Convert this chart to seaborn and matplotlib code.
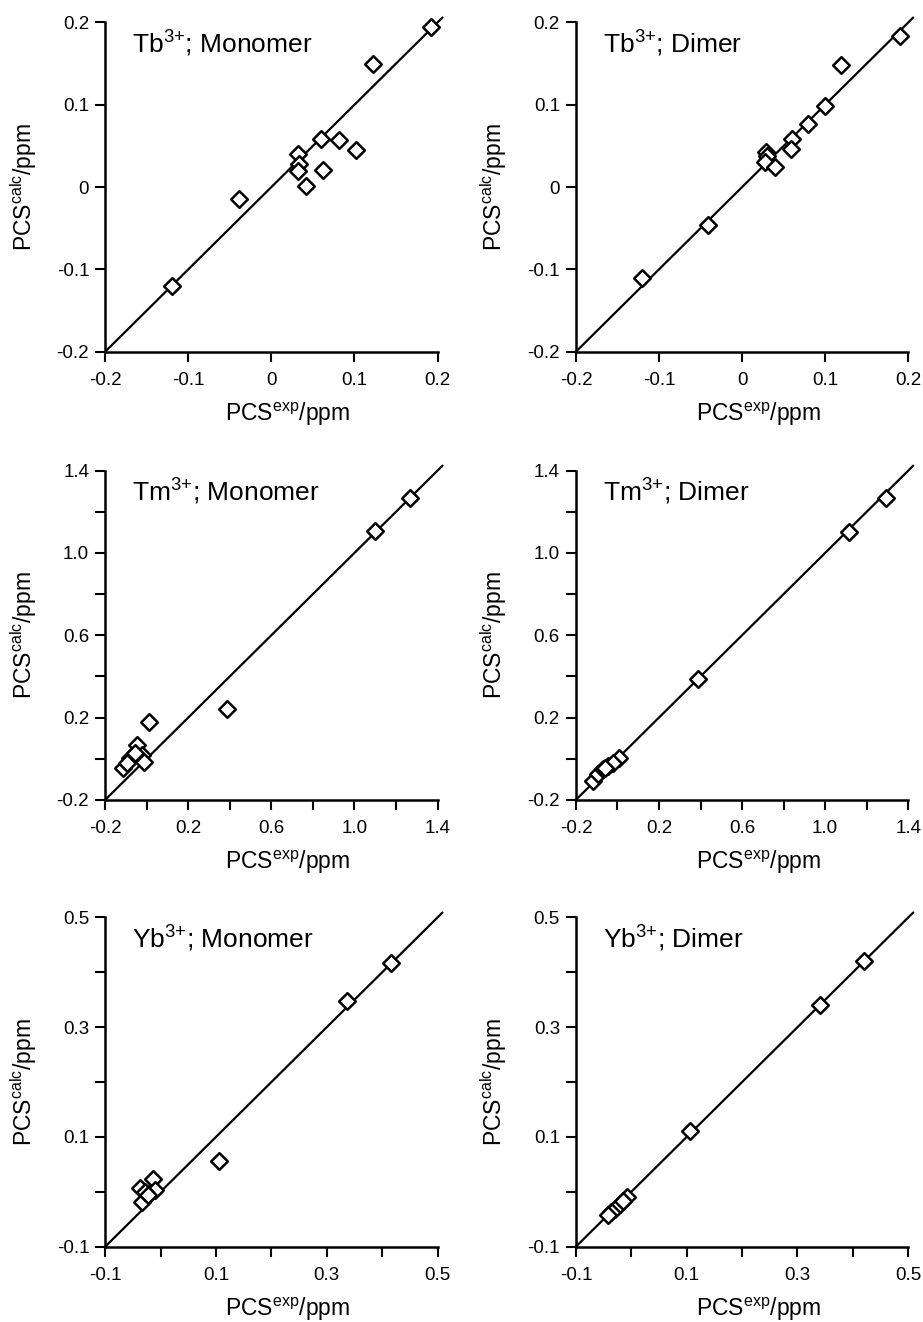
import numpy as np
import matplotlib
matplotlib.use('Agg')
import matplotlib.pyplot as plt
import seaborn as sns
import pandas as pd

sns.set_style('ticks')
plt.rcParams['font.family'] = ['Liberation Sans', 'DejaVu Sans']
plt.rcParams['mathtext.default'] = 'regular'
plt.rcParams['axes.unicode_minus'] = False
for key in ['text.color', 'axes.labelcolor', 'xtick.color', 'ytick.color', 'axes.edgecolor']:
    plt.rcParams[key] = 'black'

# PCS exp / calc values
tb_mono_exp = [0.192, 0.122, 0.060, 0.081, 0.102, 0.032, 0.033, 0.032, 0.062, 0.042, -0.039, -0.120]
tb_mono_calc = [0.195, 0.149, 0.058, 0.057, 0.045, 0.040, 0.028, 0.020, 0.021, 0.001, -0.014, -0.120]
tb_dim_exp = [0.190, 0.119, 0.100, 0.079, 0.060, 0.059, 0.029, 0.030, 0.027, 0.040, -0.041, -0.121]
tb_dim_calc = [0.184, 0.148, 0.098, 0.077, 0.059, 0.046, 0.042, 0.038, 0.030, 0.024, -0.046, -0.110]

tm_mono_exp = [1.268, 1.098, 0.387, 0.009, -0.047, -0.080, -0.112, -0.023, -0.015, -0.055, -0.095]
tm_mono_calc = [1.269, 1.109, 0.242, 0.176, 0.066, 0.004, -0.044, 0.019, -0.014, 0.028, -0.020]
tm_dim_exp = [1.291, 1.114, 0.390, 0.009, -0.116, -0.092, -0.068, -0.044, -0.020, -0.060]
tm_dim_calc = [1.266, 1.104, 0.388, 0.002, -0.108, -0.076, -0.052, -0.036, -0.020, -0.044]

yb_mono_exp = [0.416, 0.336, 0.105, -0.013, -0.037, -0.034, -0.019, -0.010, -0.028, -0.022]
yb_mono_calc = [0.417, 0.347, 0.057, 0.024, 0.006, -0.018, -0.003, 0.003, 0.000, -0.006]
yb_dim_exp = [0.421, 0.340, 0.106, -0.036, -0.008, -0.030, -0.021, -0.015, -0.042]
yb_dim_calc = [0.421, 0.340, 0.110, -0.037, -0.009, -0.031, -0.022, -0.016, -0.043]

titles = ['Tb$^{3{+}}$; Monomer', 'Tb$^{3{+}}$; Dimer',
          'Tm$^{3{+}}$; Monomer', 'Tm$^{3{+}}$; Dimer',
          'Yb$^{3{+}}$; Monomer', 'Yb$^{3{+}}$; Dimer']

tb_ticks = [-0.2, -0.1, 0, 0.1, 0.2]
tb_labels = ['-0.2', '-0.1', '0', '0.1', '0.2']
tm_ticks = [-0.2, 0, 0.2, 0.4, 0.6, 0.8, 1.0, 1.2, 1.4]
tm_labels = ['-0.2', '', '0.2', '', '0.6', '', '1.0', '', '1.4']
yb_ticks = [-0.1, 0, 0.1, 0.2, 0.3, 0.4, 0.5]
yb_labels = ['-0.1', '', '0.1', '', '0.3', '', '0.5']

panels = [
    (tb_mono_exp, tb_mono_calc, tb_ticks, tb_labels),
    (tb_dim_exp, tb_dim_calc, tb_ticks, tb_labels),
    (tm_mono_exp, tm_mono_calc, tm_ticks, tm_labels),
    (tm_dim_exp, tm_dim_calc, tm_ticks, tm_labels),
    (yb_mono_exp, yb_mono_calc, yb_ticks, yb_labels),
    (yb_dim_exp, yb_dim_calc, yb_ticks, yb_labels),
]

fig = plt.figure(figsize=(9.23, 13.22), dpi=100)
lefts = [0.114, 0.624]
bottoms = [0.734, 0.395, 0.057]
w, h = 0.36, 0.249

for i, (xs, ys, ticks, labels) in enumerate(panels):
    ax = fig.add_axes([lefts[i % 2], bottoms[i // 2], w, h])
    df = pd.DataFrame({'exp': xs, 'calc': ys})
    lo, hi = ticks[0], ticks[-1]
    ext = hi + 0.015 * (hi - lo)
    ax.plot([lo, ext], [lo, ext], color='black', lw=1.6, clip_on=False, zorder=1)
    sns.scatterplot(data=df, x='exp', y='calc', ax=ax, marker='D', s=72,
                    facecolor='white', edgecolor='black', linewidth=1.8,
                    clip_on=False, zorder=2)
    ax.set_xlim(lo, hi)
    ax.set_ylim(lo, hi)
    ax.set_xticks(ticks)
    ax.set_xticklabels(labels)
    ax.set_yticks(ticks)
    ax.set_yticklabels(labels)
    sns.despine(ax=ax)
    for sp in ['left', 'bottom']:
        ax.spines[sp].set_linewidth(1.8)
    ax.tick_params(direction='out', length=7.5, width=1.5, labelsize=13.5)
    ax.tick_params(axis='x', pad=7)
    ax.tick_params(axis='y', pad=4)
    ax.set_xlabel('PCS$^{exp}$/ppm', fontsize=16.5)
    ax.set_ylabel('PCS$^{calc}$/ppm', fontsize=16.5)
    ax.xaxis.set_label_coords(0.55, -0.148)
    ax.yaxis.set_label_coords(-0.20, 0.5)
    ax.text(0.08, 0.935, titles[i], transform=ax.transAxes, fontsize=19,
            ha='left', va='center')

plt.savefig('out.png', dpi=100)
